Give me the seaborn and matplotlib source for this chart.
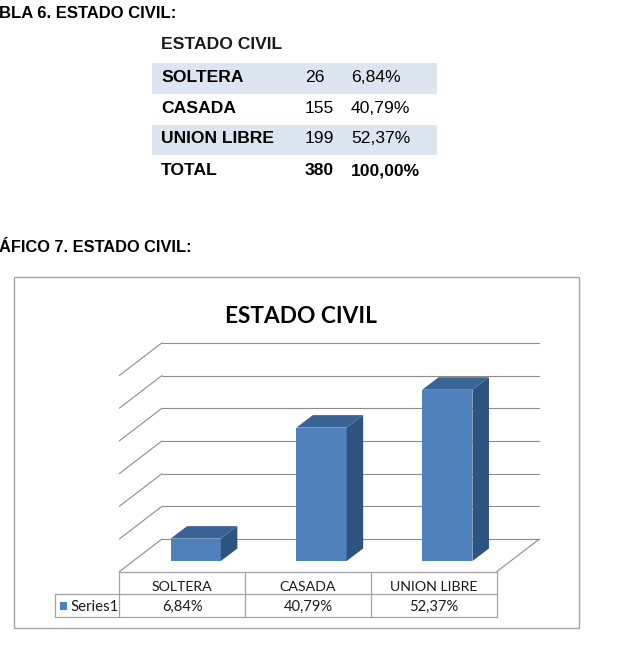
import matplotlib
matplotlib.use('Agg')
import matplotlib.pyplot as plt
import seaborn as sns
import pandas as pd
from matplotlib.patches import Polygon, Rectangle

# ---------------- data ----------------
categories = ['SOLTERA', 'CASADA', 'UNION LIBRE']
counts = [26, 155, 199]
percents = [6.84, 40.79, 52.37]
pct_labels = ['6,84%', '40,79%', '52,37%']
total_name = 'TOTAL'
total_count = 380
total_label = '100,00%'
series_name = 'Series1'
chart_title = 'ESTADO CIVIL'
table_caption = 'BLA 6. ESTADO CIVIL:'
table_header = 'ESTADO CIVIL'
chart_caption = 'ÁFICO 7. ESTADO CIVIL:'
y_ticks = [0, 10, 20, 30, 40, 50, 60]

# ---------------- style ----------------
sns.set_theme(style='white')
plt.rcParams['font.family'] = ['Liberation Sans', 'DejaVu Sans']

FRONT = '#4F81BD'
TOP = '#3A6396'
SIDE = '#2F5381'
GRID = '#8C8C8C'
TBL = '#A3A3A3'
SHADE = '#DCE6F1'

W, H = 623, 654
fig = plt.figure(figsize=(W / 100, H / 100), dpi=100)
fig.patch.set_facecolor('white')

bg = fig.add_axes([0, 0, 1, 1])
bg.set_xlim(0, W)
bg.set_ylim(H, 0)
bg.axis('off')

# ---------------- document text / table ----------------
bg.text(-1, 18.3, table_caption, fontsize=12, fontweight='bold', va='baseline', color='black')
bg.text(161, 49.3, table_header, fontsize=12.6, fontweight='bold', va='baseline', color='#1a1a1a')

row_base = [82, 112.7, 143.3]
for i in (0, 2):
    top = row_base[i] - 18.7
    bg.add_patch(Rectangle((152.3, top), 284.4, 30.8, facecolor=SHADE, edgecolor='none', zorder=0))
for i, (c, n, p) in enumerate(zip(categories, counts, pct_labels)):
    bg.text(161, row_base[i], c, fontsize=12.6, fontweight='bold', va='baseline', color='black')
    bg.text(305, row_base[i], str(n), fontsize=12.6, va='baseline', color='black')
    bg.text(351, row_base[i], p, fontsize=12.6, va='baseline', color='black')
bg.text(161, 175, total_name, fontsize=12.6, fontweight='bold', va='baseline', color='black')
bg.text(305, 175, str(total_count), fontsize=12.6, fontweight='bold', va='baseline', color='black')
bg.text(351, 175, total_label, fontsize=12.6, fontweight='bold', va='baseline', color='black')

bg.text(-1, 251.7, chart_caption, fontsize=11.8, fontweight='bold', va='baseline', color='black')

# chart frame
bg.add_patch(Rectangle((14, 276.7), 565, 351.6, facecolor='white', edgecolor='#A6A6A6', lw=1.0, zorder=0.5))
bg.text(300.5, 322.7, chart_title, ha='center', va='baseline', fontsize=16.3, fontweight='bold',
        family=['Lato', 'DejaVu Sans'], color='black', zorder=2)

# ---------------- 3D-like bar chart ----------------
ax_left, ax_right = 132.8, 510.2
y0_px = 561.0
px_per_pct = 3.27
y_top_px = y0_px - max(y_ticks) * px_per_pct
ax = fig.add_axes([ax_left / W, 1 - y0_px / H, (ax_right - ax_left) / W, (y0_px - y_top_px) / H])
ax.patch.set_alpha(0)

df = pd.DataFrame({'cat': categories, 'pct': percents})
sns.barplot(data=df, x='cat', y='pct', color=FRONT, saturation=1, width=0.4,
            errorbar=None, ax=ax, zorder=3, linewidth=0)
ax.set_xlim(-0.5, len(categories) - 0.5)
ax.set_ylim(0, max(y_ticks))
ax.axis('off')

sx = (ax_right - ax_left) / len(categories)
sy = px_per_pct
back = (29.2 / sx, 22.0 / sy)
fr = (-13.5 / sx, -10.7 / sy)
dep = (16.5 / sx, 12.5 / sy)
xl, xr = -0.5, len(categories) - 0.5

for v in y_ticks:
    ax.plot([xl + back[0], xr + back[0]], [v + back[1]] * 2, color=GRID, lw=0.8,
            clip_on=False, zorder=1)
    ax.plot([xl + fr[0], xl + back[0]], [v + fr[1], v + back[1]], color=GRID, lw=0.8,
            clip_on=False, zorder=1)
ax.plot([xr + fr[0], xr + back[0]], [fr[1], back[1]], color=GRID, lw=0.8, clip_on=False, zorder=1)

for p in list(ax.patches):
    x0, w, h = p.get_x(), p.get_width(), p.get_height()
    ax.add_patch(Polygon([(x0, h), (x0 + w, h), (x0 + w + dep[0], h + dep[1]), (x0 + dep[0], h + dep[1])],
                         closed=True, facecolor=TOP, edgecolor='none', zorder=3, clip_on=False))
    ax.add_patch(Polygon([(x0 + w, 0), (x0 + w, h), (x0 + w + dep[0], h + dep[1]), (x0 + w + dep[0], dep[1])],
                         closed=True, facecolor=SIDE, edgecolor='none', zorder=3, clip_on=False))

# ---------------- data table ----------------
def col_px(x):
    return ax_left + (x + 0.5) * sx - 13.5

edges = [col_px(i - 0.5) for i in range(len(categories) + 1)]
t_top, t_mid, t_bot = 571.7, 594.3, 617.3
leg_left = 54.7
lkw = dict(color=TBL, lw=0.9, zorder=2)
bg.plot([edges[0], edges[-1]], [t_top, t_top], **lkw)
bg.plot([leg_left, edges[-1]], [t_mid, t_mid], **lkw)
bg.plot([leg_left, edges[-1]], [t_bot, t_bot], **lkw)
for e in edges:
    bg.plot([e, e], [t_top, t_bot], **lkw)
bg.plot([leg_left, leg_left], [t_mid, t_bot], **lkw)

for i, (c, p) in enumerate(zip(categories, pct_labels)):
    cx = (edges[i] + edges[i + 1]) / 2
    bg.text(cx, 591.3, c, ha='center', va='baseline', fontsize=10.2, family=['Lato', 'DejaVu Sans'],
            color='#1a1a1a', zorder=3)
    bg.text(cx, 611.3, p, ha='center', va='baseline', fontsize=10.6, family=['Lato', 'DejaVu Sans'],
            color='#1a1a1a', zorder=3)

bg.add_patch(Rectangle((59.5, 601.7), 7, 7.8, facecolor=FRONT, edgecolor='none', zorder=3))
bg.text(70.5, 611.3, series_name, va='baseline', fontsize=10.8, family=['Lato', 'DejaVu Sans'],
        color='#1a1a1a', zorder=3)

fig.savefig('out.png', dpi=100, facecolor='white')
